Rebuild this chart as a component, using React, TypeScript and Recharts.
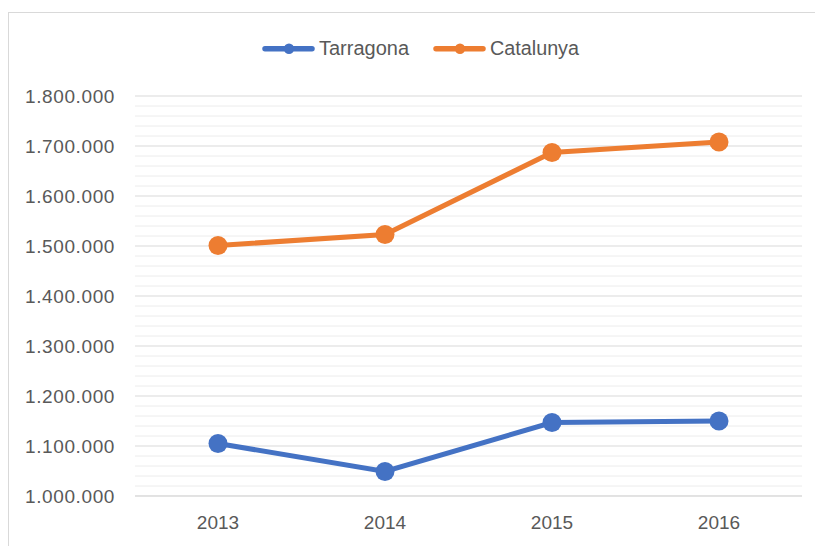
import React from "react";
import { LineChart, Line, XAxis, YAxis, CartesianGrid, ReferenceLine, Legend } from "recharts";

const years = ["2013", "2014", "2015", "2016"];
const tarragona = [1105000, 1049000, 1147000, 1150000];
const catalunya = [1501000, 1523000, 1687000, 1708000];
const yTicks = [1000000, 1100000, 1200000, 1300000, 1400000, 1500000, 1600000, 1700000, 1800000];
const minorStep = 20000;
const seriesNames = ["Tarragona", "Catalunya"];
const seriesColors = ["#4472C4", "#ED7D31"];

const data = years.map((y, i) => ({ year: y, Tarragona: tarragona[i], Catalunya: catalunya[i] }));

const minorTicks: number[] = [];
for (let v = yTicks[0]; v <= yTicks[yTicks.length - 1]; v += minorStep) {
  if (!yTicks.includes(v)) minorTicks.push(v);
}

const fmt = (v: number) => String(v).replace(/\B(?=(\d{3})+(?!\d))/g, ".");

const FONT = "'Liberation Sans', Arial, sans-serif";
const LEGEND_H = 24;
const LEGEND_TOP = 36;

const LegendContent = () => {
  const items = [
    { x: 262, tx: 319, w: 90 },
    { x: 433, tx: 490, w: 89 },
  ];
  const cy = 12.7;
  return (
    <div style={{ height: LEGEND_H }}>
      <svg width={815} height={LEGEND_H} style={{ display: "block" }}>
        {seriesNames.map((n, i) => (
          <g key={n}>
            <line x1={items[i].x + 3} x2={items[i].x + 50} y1={cy} y2={cy} stroke={seriesColors[i]} strokeWidth={5.5} strokeLinecap="round" />
            <circle cx={items[i].x + 27} cy={cy} r={5.2} fill={seriesColors[i]} />
            <text x={items[i].tx} y={18.7} fontSize={19.5} fill="#595959" fontFamily={FONT} textLength={items[i].w} lengthAdjust="spacingAndGlyphs">
              {n}
            </text>
          </g>
        ))}
      </svg>
    </div>
  );
};

export default function App() {
  return (
    <div style={{ position: "absolute", left: 0, top: 0, width: 815, height: 546, background: "#fff", overflow: "hidden" }}>
      <div style={{ position: "absolute", left: 8, top: 12, width: 900, height: 700, border: "1px solid #d9d9d9" }} />
      <div style={{ position: "absolute", left: 0, top: 0 }}>
        <LineChart width={815} height={546} data={data} margin={{ top: 96 - LEGEND_H, right: 13, bottom: 0, left: 0 }}>
          <Legend verticalAlign="top" content={<LegendContent />} wrapperStyle={{ top: LEGEND_TOP, left: 0, width: 815, height: LEGEND_H }} />
          {minorTicks.map((v) => (
            <ReferenceLine key={v} y={v} stroke="#ececec" strokeWidth={1} />
          ))}
          <CartesianGrid vertical={false} stroke="#d9d9d9" strokeWidth={1} />
          <XAxis
            dataKey="year"
            height={50}
            padding={{ left: 83, right: 83 }}
            axisLine={{ stroke: "#d9d9d9" }}
            tickLine={false}
            tickSize={0}
            tickMargin={20}
            tick={{ fill: "#595959", fontSize: 19, fontFamily: FONT }}
          />
          <YAxis
            width={135}
            domain={[1000000, 1800000]}
            ticks={yTicks}
            tickFormatter={fmt}
            axisLine={false}
            tickLine={false}
            tickSize={0}
            tickMargin={20}
            tick={{ fill: "#595959", fontSize: 19, fontFamily: FONT, letterSpacing: 0.6 }}
          />
          <Line dataKey="Tarragona" stroke={seriesColors[0]} strokeWidth={5} dot={{ r: 9.5, fill: seriesColors[0], stroke: "none" }} isAnimationActive={false} />
          <Line dataKey="Catalunya" stroke={seriesColors[1]} strokeWidth={5} dot={{ r: 9.5, fill: seriesColors[1], stroke: "none" }} isAnimationActive={false} />
        </LineChart>
      </div>
    </div>
  );
}
